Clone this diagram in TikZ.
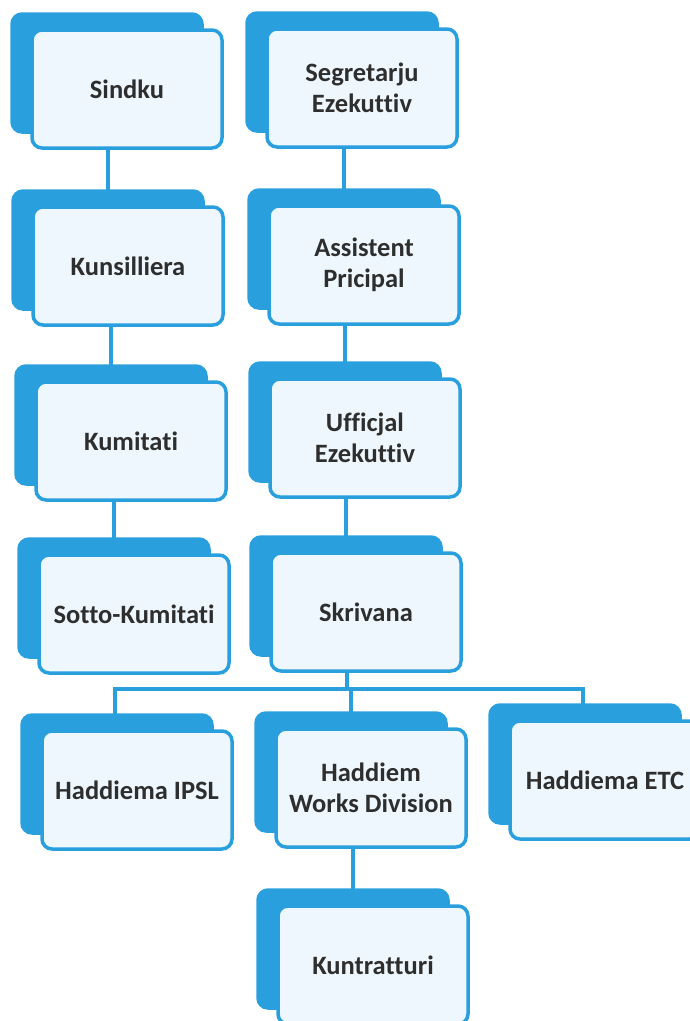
\documentclass[tikz,border=0pt]{standalone}
\usepackage{fontspec}
\setmainfont[Ligatures=NoCommon]{Carlito}
\usetikzlibrary{shadows,calc}
\pgfdeclarelayer{bg}
\pgfsetlayers{bg,main}
\definecolor{boxblue}{HTML}{2A9FDE}
\definecolor{boxfill}{HTML}{EEF7FD}
\definecolor{txtgray}{HTML}{2E2E2E}
\tikzset{
  orgbox/.style={draw=boxblue, line width=3.5pt, fill=boxfill, rounded corners=10pt,
    minimum width=190pt, minimum height=118pt, align=center, text=txtgray,
    font=\fontsize{26.5}{31}\selectfont\bfseries,
    general shadow={fill=boxblue, draw=boxblue, shadow xshift=-20pt, shadow yshift=16pt}},
  link/.style={draw=boxblue, line width=3.5pt}
}
\begin{document}
\begin{tikzpicture}[x = 1pt, y = -1pt]
    \useasboundingbox (0,0) rectangle (689,1021);
    \node[orgbox] (sindku) at (127,89) {Sindku};
    \node[orgbox] (segretarju) at (362,88) {Segretarju\\Ezekuttiv};
    \node[orgbox] (kunsilliera) at (128,266) {Kunsilliera};
    \node[orgbox] (assistent) at (364,265) {Assistent\\Pricipal};
    \node[orgbox] (kumitati) at (131,441) {Kumitati};
    \node[orgbox] (ufficjal) at (365,438) {Ufficjal\\Ezekuttiv};
    \node[orgbox] (sotto) at (134,614) {Sotto-Kumitati};
    \node[orgbox] (skrivana) at (366,612) {Skrivana};
    \node[orgbox] (ipsl) at (137,790) {Haddiema IPSL};
    \node[orgbox] (works) at (371,788) {Haddiem\\Works Division};
    \node[orgbox] (etc) at (605,780) {Haddiema ETC};
    \node[orgbox] (kuntratturi) at (373,965) {Kuntratturi};
    \begin{pgfonlayer}{bg}
      \foreach \up/\down in {sindku/kunsilliera, kunsilliera/kumitati, kumitati/sotto,
          segretarju/assistent, assistent/ufficjal, ufficjal/skrivana, works/kuntratturi}
        \draw[link] ($(\down.center)+(-20,0)$) |- (\up.center);
      \coordinate (fork) at ($(skrivana.south)+(-19,16)$);
      \draw[link] ($(skrivana.center)+(-19,0)$) -- (fork);
      \draw[link] (fork) -| ($(ipsl.center)+(-22,0)$);
      \draw[link] (fork) -| ($(works.center)+(-20,0)$);
      \draw[link] (fork) -| ($(etc.center)+(-22,0)$);
    \end{pgfonlayer}
\end{tikzpicture}
\end{document}
